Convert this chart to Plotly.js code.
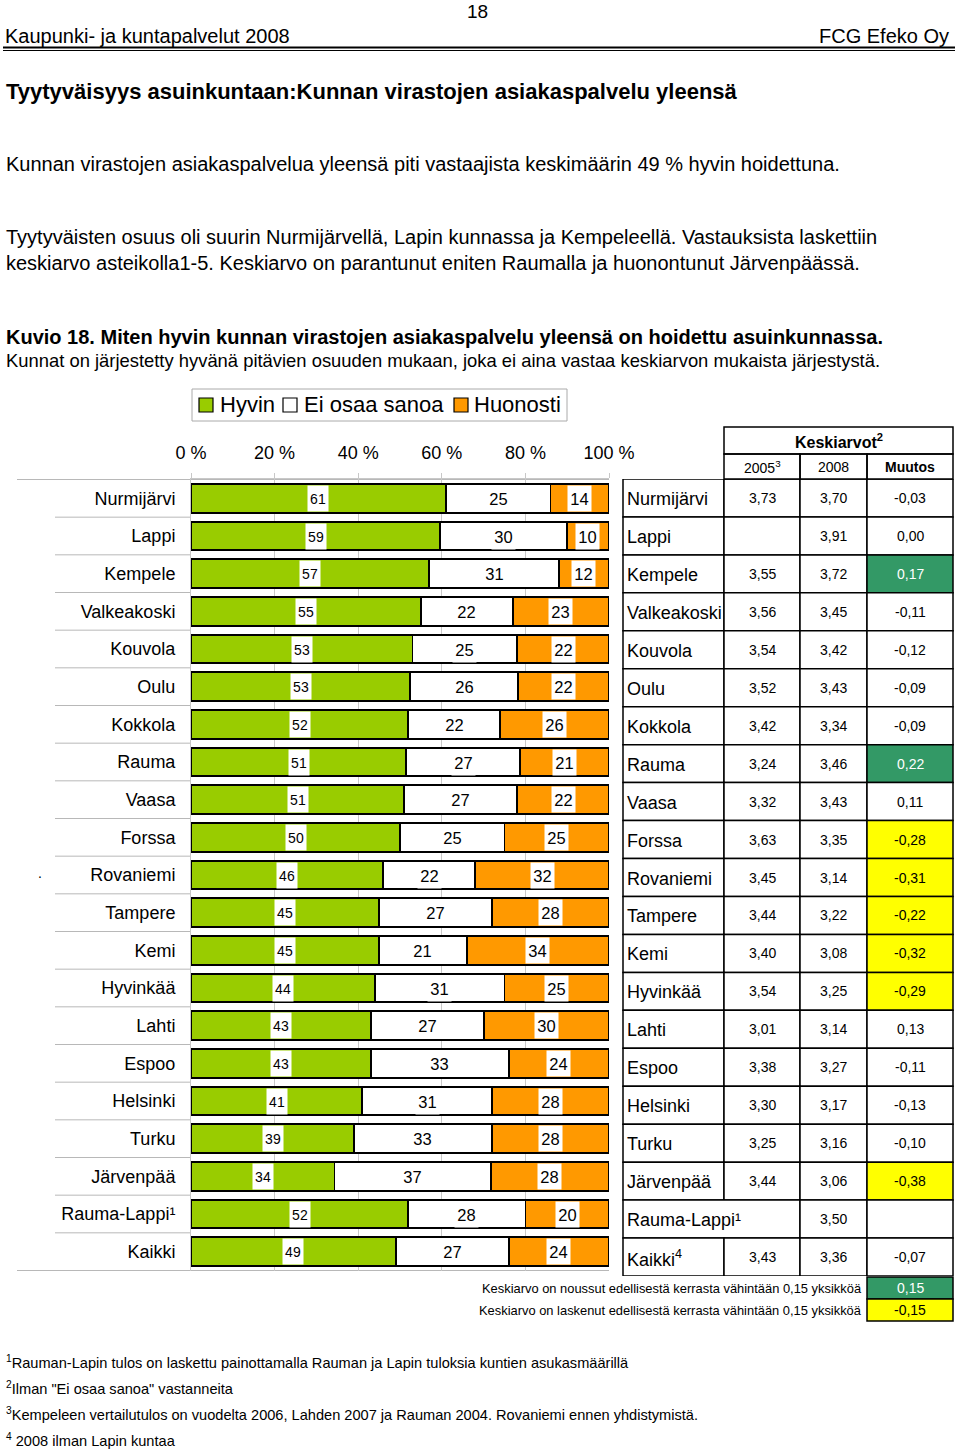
<!DOCTYPE html>
<html>
<head>
<meta charset="utf-8">
<script src="https://cdn.plot.ly/plotly-3.0.1.min.js"></script>
<style>html,body{margin:0;padding:0;background:#fff;}#chart{width:960px;height:1449px;}</style>
</head>
<body>
<div id="chart"></div>
<script>
// ---------------- DATA ----------------
const categories = ['Nurmijärvi','Lappi','Kempele','Valkeakoski','Kouvola','Oulu','Kokkola','Rauma','Vaasa','Forssa','Rovaniemi','Tampere','Kemi','Hyvinkää','Lahti','Espoo','Helsinki','Turku','Järvenpää','Rauma-Lappi¹','Kaikki'];
const hyvin    = [61,59,57,55,53,53,52,51,51,50,46,45,45,44,43,43,41,39,34,52,49];
const eiOsaa   = [25,30,31,22,25,26,22,27,27,25,22,27,21,31,27,33,31,33,37,28,27];
const huonosti = [14,10,12,23,22,22,26,21,22,25,32,28,34,25,30,24,28,28,28,20,24];
const seriesNames = ['Hyvin','Ei osaa sanoa','Huonosti'];
const xTickVals = [0,20,40,60,80,100];
const xTickText = ['0 %','20 %','40 %','60 %','80 %','100 %'];

const tableNames = ['Nurmijärvi','Lappi','Kempele','Valkeakoski','Kouvola','Oulu','Kokkola','Rauma','Vaasa','Forssa','Rovaniemi','Tampere','Kemi','Hyvinkää','Lahti','Espoo','Helsinki','Turku','Järvenpää','Rauma-Lappi¹','Kaikki<sup>4</sup>'];
const ka2005 = [3.73,null,3.55,3.56,3.54,3.52,3.42,3.24,3.32,3.63,3.45,3.44,3.40,3.54,3.01,3.38,3.30,3.25,3.44,null,3.43];
const ka2008 = [3.70,3.91,3.72,3.45,3.42,3.43,3.34,3.46,3.43,3.35,3.14,3.22,3.08,3.25,3.14,3.27,3.17,3.16,3.06,3.50,3.36];
const muutos = [-0.03,0.00,0.17,-0.11,-0.12,-0.09,-0.09,0.22,0.11,-0.28,-0.31,-0.22,-0.32,-0.29,0.13,-0.11,-0.13,-0.10,-0.38,null,-0.07];
const tableHeader = 'Keskiarvot<sup>2</sup>';
const tableColHeads = ['2005<sup>3</sup>','2008','<b>Muutos</b>'];
const mergedNameRows = ['Rauma-Lappi¹'];
const threshold = 0.15;
const thresholdTexts = ['Keskiarvo on noussut edellisestä kerrasta vähintään 0,15 yksikköä','Keskiarvo on laskenut edellisestä kerrasta vähintään 0,15 yksikköä'];

const pageTexts = {
  pageNo: '18',
  left: 'Kaupunki- ja kuntapalvelut 2008',
  right: 'FCG Efeko Oy',
  title: '<b>Tyytyväisyys asuinkuntaan:Kunnan virastojen asiakaspalvelu yleensä</b>',
  p1: 'Kunnan virastojen asiakaspalvelua yleensä piti vastaajista keskimäärin 49 % hyvin hoidettuna.',
  p2: 'Tyytyväisten osuus oli suurin Nurmijärvellä, Lapin kunnassa ja Kempeleellä. Vastauksista laskettiin',
  p3: 'keskiarvo asteikolla1-5. Keskiarvo on parantunut eniten Raumalla ja huonontunut Järvenpäässä.',
  fig: '<b>Kuvio 18. Miten hyvin kunnan virastojen asiakaspalvelu yleensä on hoidettu asuinkunnassa.</b>',
  figSub: 'Kunnat on järjestetty hyvänä pitävien osuuden mukaan, joka ei aina vastaa keskiarvon mukaista järjestystä.'
};
const footnotes = [
  '<sup>1</sup>Rauman-Lapin tulos on laskettu painottamalla Rauman ja Lapin tuloksia kuntien asukasmäärillä',
  '<sup>2</sup>Ilman "Ei osaa sanoa" vastanneita',
  '<sup>3</sup>Kempeleen vertailutulos on vuodelta 2006, Lahden 2007 ja Rauman 2004. Rovaniemi ennen yhdistymistä.',
  '<sup>4</sup> 2008 ilman Lapin kuntaa'
];

// ---------------- STYLE / LAYOUT ----------------
const W = 960, H = 1449;
const X = p => p / W;
const Y = p => 1 - p / H;
const FONT = 'Liberation Sans, Arial, sans-serif';
const NARROW = 'Liberation Sans Narrow, Arial Narrow, Liberation Sans, Arial, sans-serif';
const colors = ['#99CC00', '#FFFFFF', '#FF9900'];
const GREEN_CELL = '#339966', YELLOW_CELL = '#FFFF00';

const plotL = 191, plotR = 609, plotT = 479, plotB = 1271;
const tabT = 479, tabB = 1276;
const colX = [623, 724, 800, 867, 953];

const seriesData = [hyvin, eiOsaa, huonosti];
const traces = seriesData.map((vals, k) => ({
  type: 'bar', orientation: 'h', name: seriesNames[k],
  y: categories, x: vals,
  marker: {color: colors[k], line: {color: '#000', width: 1.8}},
  hoverinfo: 'x+y+name', showlegend: false
}));
traces.push({type: 'scatter', x: [0], y: [0], xaxis: 'x2', yaxis: 'y2', mode: 'markers',
  marker: {opacity: 0}, hoverinfo: 'skip', showlegend: false});

const annotations = [];
const shapes = [];
const txt = (text, x, y, opt) => Object.assign({text, x, y, xref: 'paper', yref: 'paper', showarrow: false,
  font: {family: FONT, size: 20, color: '#000'}, xanchor: 'left', yanchor: 'middle'}, opt || {});

// page header
annotations.push(txt(pageTexts.pageNo, X(477), Y(11), {xanchor: 'center', font: {family: NARROW, size: 19, color: '#000'}}));
annotations.push(txt(pageTexts.left, X(3), Y(36), {font: {family: NARROW, size: 20, color: '#000'}}));
annotations.push(txt(pageTexts.right, X(951), Y(36), {xanchor: 'right', font: {family: NARROW, size: 20, color: '#000'}}));
shapes.push({type: 'line', xref: 'paper', yref: 'paper', x0: X(3), x1: X(955), y0: Y(47.5), y1: Y(47.5), line: {color: '#000', width: 2}});
shapes.push({type: 'line', xref: 'paper', yref: 'paper', x0: X(3), x1: X(955), y0: Y(50.5), y1: Y(50.5), line: {color: '#000', width: 1}});
annotations.push(txt(pageTexts.title, X(4), Y(91), {font: {family: FONT, size: 22, color: '#000'}}));
annotations.push(txt(pageTexts.p1, X(4), Y(164)));
annotations.push(txt(pageTexts.p2, X(4), Y(237)));
annotations.push(txt(pageTexts.p3, X(4), Y(263)));
annotations.push(txt(pageTexts.fig, X(4), Y(337)));
annotations.push(txt(pageTexts.figSub, X(4), Y(361), {font: {family: FONT, size: 18.4, color: '#000'}}));

// legend
shapes.push({type: 'rect', xref: 'paper', yref: 'paper', x0: X(192), x1: X(567), y0: Y(389), y1: Y(421), line: {color: '#aaa', width: 1}, fillcolor: '#fff'});
const legSq = [199, 283, 454];
const legTx = [218, 302, 472];
seriesNames.forEach((n, k) => {
  shapes.push({type: 'rect', xref: 'paper', yref: 'paper', x0: X(legSq[k]), x1: X(legSq[k] + 14), y0: Y(398), y1: Y(412), line: {color: '#000', width: 1.2}, fillcolor: colors[k]});
  annotations.push(txt(n, X(legTx[k]), Y(405), {font: {family: FONT, size: 22, color: '#000'}}));
});

// category separators on left
for (let i = 0; i <= categories.length; i++) {
  const edge = (i === 0 || i === categories.length);
  shapes.push({type: 'line', xref: 'paper', yref: 'y', x0: X(edge ? 17 : 55), x1: X(edge ? plotR : plotL), y0: i - 0.5, y1: i - 0.5, line: {color: '#b8b8b8', width: 1}, layer: 'below'});
}
annotations.push(txt('.', X(36), 'Rovaniemi', {yref: 'y', font: {family: FONT, size: 14, color: '#000'}, yshift: 2}));

// data labels
categories.forEach((c, i) => {
  const vals = seriesData.map(s => s[i]);
  const total = vals.reduce((a, b) => a + b, 0);
  let cum = 0;
  vals.forEach((v, k) => {
    const mid = (cum + v / 2) / total * 100;
    cum += v;
    annotations.push({text: String(v), x: mid, y: c, xref: 'x', yref: 'y', showarrow: false,
      font: {family: FONT, size: k === 0 ? 14 : 16.5, color: '#000'},
      bgcolor: '#fff', width: k === 0 ? 20 : 23, height: 25, borderpad: 0, xanchor: 'center', yanchor: 'middle'});
  });
});

// table header
const hdrLine = {color: '#000', width: 1.5};
shapes.push({type: 'rect', xref: 'paper', yref: 'paper', x0: X(colX[1]), x1: X(colX[4]), y0: Y(427), y1: Y(454), line: hdrLine});
for (let k = 1; k < 4; k++) {
  shapes.push({type: 'rect', xref: 'paper', yref: 'paper', x0: X(colX[k]), x1: X(colX[k + 1]), y0: Y(454), y1: Y(tabT), line: hdrLine});
  annotations.push(txt(tableColHeads[k - 1], X((colX[k] + colX[k + 1]) / 2), Y(467), {xanchor: 'center', font: {family: FONT, size: 14, color: '#000'}}));
}
annotations.push(txt('<b>' + tableHeader + '</b>', X((colX[1] + colX[4]) / 2), Y(441), {xanchor: 'center', font: {family: NARROW, size: 16, color: '#000'}}));

// table body
const fmt = v => (v === null ? '' : v.toFixed(2).replace('.', ','));
tableNames.forEach((n, i) => {
  const merged = mergedNameRows.includes(categories[i]);
  const cellsX = merged ? [[colX[0], colX[2]], [colX[2], colX[3]], [colX[3], colX[4]]]
                        : [[colX[0], colX[1]], [colX[1], colX[2]], [colX[2], colX[3]], [colX[3], colX[4]]];
  cellsX.forEach((cx, j) => {
    let fill = '#fff';
    const isMuutos = (j === cellsX.length - 1);
    if (isMuutos && muutos[i] !== null) {
      if (muutos[i] >= threshold) fill = GREEN_CELL;
      else if (muutos[i] <= -threshold) fill = YELLOW_CELL;
    }
    shapes.push({type: 'rect', xref: 'paper', yref: 'y2', x0: X(cx[0]), x1: X(cx[1]), y0: i - 0.5, y1: i + 0.5, line: hdrLine, fillcolor: fill, layer: 'below'});
  });
  annotations.push({text: n, x: X(colX[0] + 2), y: i, xref: 'paper', yref: 'y2', showarrow: false, xanchor: 'left', yanchor: 'middle', font: {family: FONT, size: 18, color: '#000'}, yshift: -1});
  const vals = [ka2005[i], ka2008[i], muutos[i]];
  vals.forEach((v, j) => {
    if (v === null) return;
    const col = j + 1;
    let color = '#000';
    if (j === 2 && v >= threshold) color = '#fff';
    annotations.push({text: fmt(v), x: X((colX[col] + colX[col + 1]) / 2), y: i, xref: 'paper', yref: 'y2', showarrow: false, xanchor: 'center', yanchor: 'middle', font: {family: FONT, size: 14, color}});
  });
});

// threshold legend
const thrY = [[1277, 1299], [1299, 1321]];
const thrFill = [GREEN_CELL, YELLOW_CELL];
const thrVal = [threshold, -threshold];
thrY.forEach((yy, k) => {
  shapes.push({type: 'rect', xref: 'paper', yref: 'paper', x0: X(colX[3]), x1: X(colX[4]), y0: Y(yy[0]), y1: Y(yy[1]), line: hdrLine, fillcolor: thrFill[k]});
  annotations.push(txt(fmt(thrVal[k]), X((colX[3] + colX[4]) / 2), Y((yy[0] + yy[1]) / 2), {xanchor: 'center', font: {family: FONT, size: 14, color: k === 0 ? '#fff' : '#000'}}));
  annotations.push(txt(thresholdTexts[k], X(864), Y((yy[0] + yy[1]) / 2), {xanchor: 'right', font: {family: FONT, size: 12.9, color: '#000'}}));
});

// footnotes
const fnY = [1362, 1388, 1414, 1440];
footnotes.forEach((f, k) => annotations.push(txt(f, X(4), Y(fnY[k]), {font: {family: FONT, size: 14.6, color: '#000'}})));

const layout = {
  width: W, height: H, margin: {l: 0, r: 0, t: 0, b: 0},
  paper_bgcolor: '#fff', plot_bgcolor: '#fff',
  barmode: 'stack', barnorm: 'percent', bargap: 0.24,
  showlegend: false,
  font: {family: FONT, color: '#000'},
  xaxis: {domain: [X(plotL), X(plotR)], range: [0, 100], side: 'top', tickvals: xTickVals, ticktext: xTickText,
    tickfont: {family: FONT, size: 18, color: '#000'}, showgrid: true, gridcolor: '#c8c8c8', gridwidth: 1,
    ticks: 'outside', ticklen: 5, tickcolor: '#c8c8c8', ticklabelstandoff: 7, zeroline: false, fixedrange: true,
    showline: true, linecolor: '#c8c8c8', mirror: false},
  yaxis: {domain: [Y(plotB), Y(plotT)], type: 'category', autorange: 'reversed', tickfont: {family: FONT, size: 18, color: '#000'},
    ticks: '', ticklabelstandoff: 11, showgrid: false, zeroline: false, showline: true, linecolor: '#c8c8c8', fixedrange: true},
  xaxis2: {domain: [X(colX[0]), X(colX[4])], anchor: 'y2', range: [0, 1], visible: false, fixedrange: true},
  yaxis2: {domain: [Y(tabB), Y(tabT)], anchor: 'x2', range: [categories.length - 0.5, -0.5], visible: false, fixedrange: true},
  shapes, annotations
};

Plotly.newPlot('chart', traces, layout, {displayModeBar: false, staticPlot: true});
</script>
</body>
</html>
